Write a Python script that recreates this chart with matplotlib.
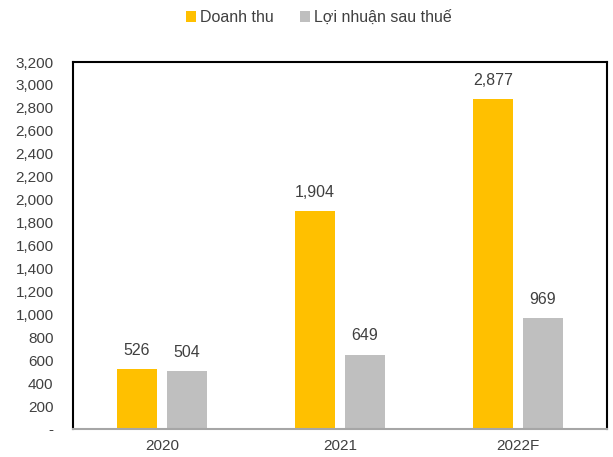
import matplotlib.pyplot as plt
import numpy as np
from matplotlib.ticker import FuncFormatter

years = ["2020", "2021", "2022F"]
doanh_thu = [526, 1904, 2877]
loi_nhuan = [504, 649, 969]
series_names = ["Doanh thu", "Lợi nhuận sau thuế"]

YELLOW = "#FFC000"
GRAY = "#BFBFBF"
TEXT = "#404040"

plt.rcParams["font.family"] = ["Liberation Sans", "DejaVu Sans"]

fig = plt.figure(figsize=(6.13, 4.57), dpi=100)
ax = fig.add_axes([0.119, 0.0613, 0.871, 0.803])

x = np.arange(len(years))
w = 0.225
off = 0.14
b1 = ax.bar(x - off, doanh_thu, w, color=YELLOW, label=series_names[0], zorder=2)
b2 = ax.bar(x + off, loi_nhuan, w, color=GRAY, label=series_names[1], zorder=2)

for bars in (b1, b2):
    for r in bars:
        ax.annotate(f"{r.get_height():,.0f}", (r.get_x() + r.get_width() / 2, r.get_height()),
                    xytext=(0, 8), textcoords="offset points", ha="center", va="bottom",
                    fontsize=11.5, color=TEXT)

ax.set_xlim(-0.5, 2.5)
ax.set_ylim(0, 3200)
ax.set_yticks(range(0, 3201, 200))
ax.yaxis.set_major_formatter(FuncFormatter(lambda v, p: "-" if v == 0 else f"{v:,.0f}"))
ax.set_xticks(x)
ax.set_xticklabels(years)
ax.tick_params(axis="both", length=0, labelsize=11, colors=TEXT)
ax.tick_params(axis="x", pad=7)
ax.tick_params(axis="y", pad=14)

for s in ("left", "top", "right"):
    ax.spines[s].set_color("black")
    ax.spines[s].set_linewidth(1.5)
ax.spines["bottom"].set_color("#A6A6A6")
ax.spines["bottom"].set_linewidth(1.5)

fig.legend(loc="upper center", bbox_to_anchor=(0.52, 1.01), ncol=2, frameon=False,
           fontsize=11.5, handlelength=0.65, handleheight=0.65, handletextpad=0.25,
           columnspacing=1.6, labelcolor=TEXT)

fig.savefig("out.png", dpi=100)
